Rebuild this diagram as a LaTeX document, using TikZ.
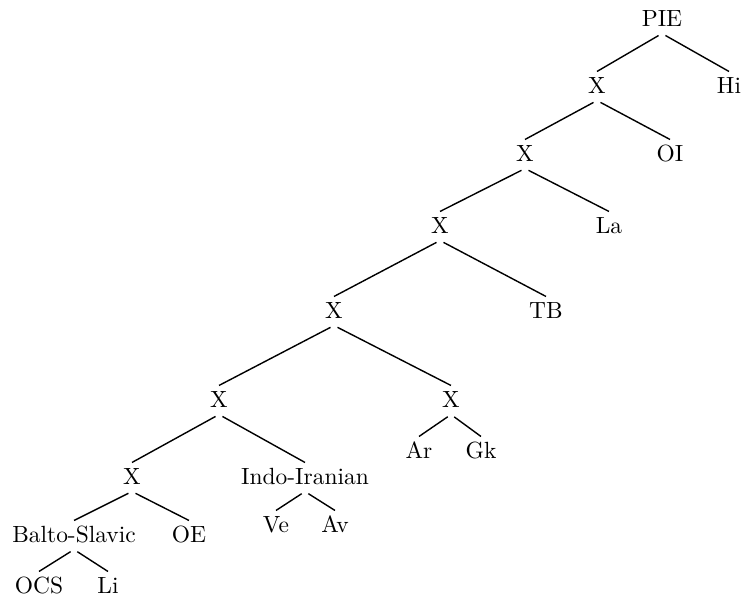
\documentclass[tikz,border=0pt]{standalone}
\usepackage{amsmath,amssymb}
\usetikzlibrary{positioning}

\begin{document}
\begin{tikzpicture}[on grid, auto]
  % Define styles
  \tikzstyle{lang} = [text height=6.8pt, text depth=0pt, inner xsep=1pt, inner ysep=2.6pt]
  \tikzstyle{line} = [draw, line width=0.6pt, shorten <=1.7pt]

  \useasboundingbox (0,0) rectangle (11.13,-9.06);

  % Place nodes
  \node [lang] (pie) at (9.93,-0.285) {PIE};
  \node [lang, below left=1.005cm and 0.975cm of pie] (x1) {X};
  \node [lang, below right=1.005cm and 1.005cm of pie] (hi) {Hi};
  \node [lang, below left=1.02cm and 1.08cm of x1] (x2) {X};
  \node [lang, below right=1.02cm and 1.095cm of x1] (oi) {OI};
  \node [lang, below left=1.08cm and 1.275cm of x2] (x3) {X};
  \node [lang, below right=1.08cm and 1.26cm of x2] (la) {La};
  \node [lang, below left=1.275cm and 1.59cm of x3] (x4) {X};
  \node [lang, below right=1.275cm and 1.59cm of x3] (tb) {TB};
  \node [lang, below left=1.335cm and 1.725cm of x4] (x5) {X};
  \node [lang, below right=1.335cm and 1.755cm of x4] (x6) {X};
  \node [lang, below left=0.765cm and 0.48cm of x6] (ar) {Ar};
  \node [lang, below right=0.765cm and 0.45cm of x6] (gk) {Gk};
  \node [lang, below left=1.155cm and 1.305cm of x5] (x7) {X};
  \node [lang, below right=1.155cm and 1.29cm of x5] (indoiran) {Indo-Iranian};
  \node [lang, below left=0.72cm and 0.435cm of indoiran] (ve) {Ve};
  \node [lang, below right=0.72cm and 0.45cm of indoiran] (av) {Av};
  \node [lang, below left=0.87cm and 0.87cm of x7] (baltoslav) {Balto-Slavic};
  \node [lang, below right=0.87cm and 0.855cm of x7] (oe) {OE};
  \node [lang, below left=0.765cm and 0.525cm of baltoslav] (ocs) {OCS};
  \node [lang, below right=0.765cm and 0.51cm of baltoslav] (li) {Li};

  % Draw edges
  \foreach \p/\l/\r in {pie/x1/hi, x1/x2/oi, x2/x3/la, x3/x4/tb, x4/x5/x6,
                        x6/ar/gk, x5/x7/indoiran, indoiran/ve/av,
                        x7/baltoslav/oe, baltoslav/ocs/li} {
    \path [line] (\p.south) -- (\l.north);
    \path [line] (\p.south) -- (\r.north);
  }
\end{tikzpicture}
\end{document}
